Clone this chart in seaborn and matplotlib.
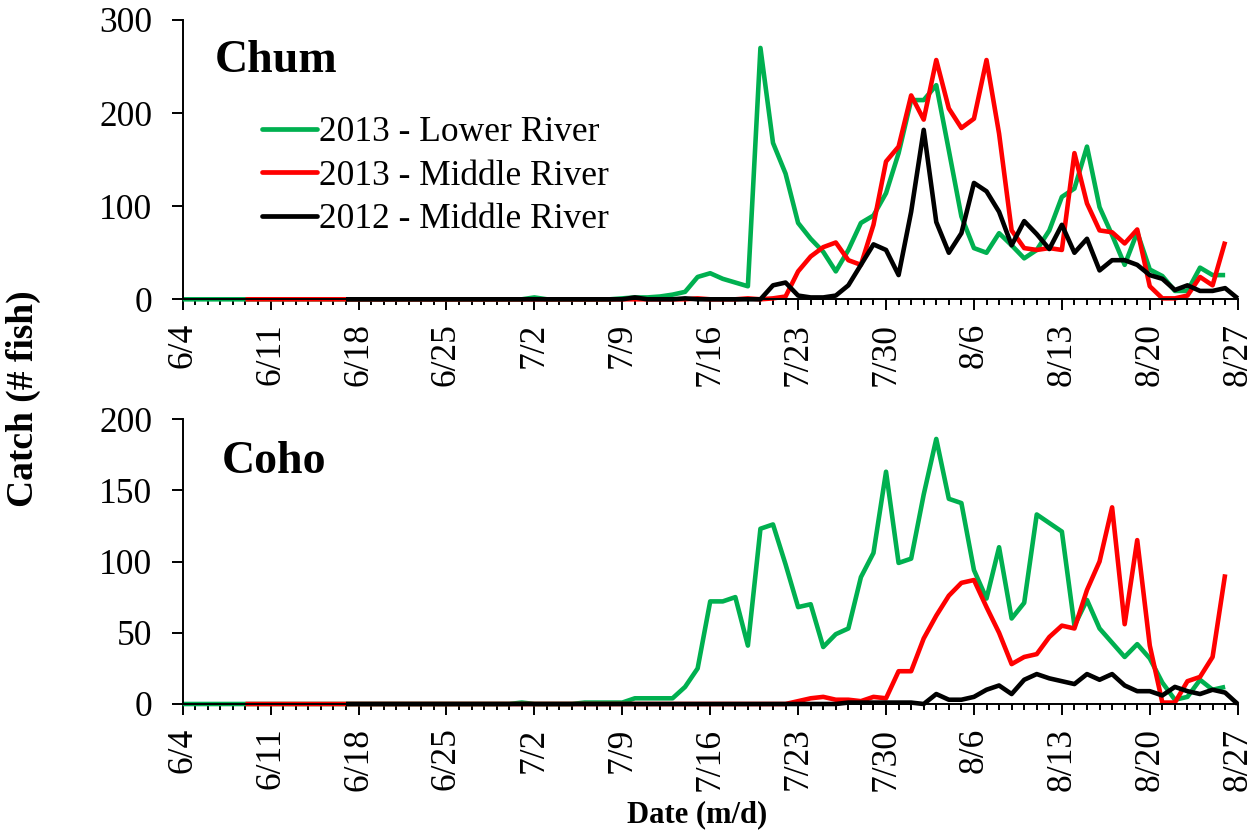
import numpy as np
import pandas as pd
import matplotlib
matplotlib.use("Agg")
import matplotlib.pyplot as plt
from matplotlib.lines import Line2D
from matplotlib.ticker import MultipleLocator
import seaborn as sns

nan = np.nan

# ---------------- data ----------------
# daily catch from 6/4 to 8/27 (one row per week, nan = not sampled)
tick_labels = ["6/4", "6/11", "6/18", "6/25", "7/2", "7/9", "7/16",
               "7/23", "7/30", "8/6", "8/13", "8/20", "8/27"]
series_names = ["2013 - Lower River", "2013 - Middle River", "2012 - Middle River"]
series_colors = ["#00B050", "#FF0000", "#000000"]

# Chum (upper panel)
chum_lower_2013 = [
    0, 0, 0, 0, 0, 0, 0,            # 6/4
    0, 0, 0, 0, 0, 0, 0,            # 6/11
    0, 0, 0, 0, 0, 0, 0,            # 6/18
    0, 0, 0, 0, 0, 0, 0,            # 6/25
    2, 0, 0, 0, 0, 0, 0,            # 7/2
    1, 2, 2, 3, 5, 8, 24,           # 7/9
    28, 22, 18, 14, 270, 168, 135,  # 7/16
    82, 65, 51, 30, 53, 82, 90,     # 7/23
    114, 157, 214, 214, 230, 160, 89,  # 7/30
    55, 50, 71, 58, 44, 53, 74,     # 8/6
    110, 119, 164, 99, 69, 37, 72,  # 8/13
    32, 25, 9, 9, 34, 26, 26,       # 8/20
    nan]                            # 8/27
chum_middle_2013 = [
    nan, nan, nan, nan, nan, 0, 0,
    0, 0, 0, 0, 0, 0, 0,
    0, 0, 0, 0, 0, 0, 0,
    0, 0, 0, 0, 0, 0, 0,
    0, 0, 0, 0, 0, 0, 0,
    0, 0, 0, 0, 0, 0, 1,
    0, 0, 0, 1, 0, 1, 3,
    30, 46, 56, 61, 42, 37, 80,
    148, 164, 219, 193, 257, 205, 184,
    194, 257, 178, 74, 55, 53, 55,
    53, 157, 103, 74, 72, 60, 75,
    14, 1, 1, 4, 24, 15, 62,
    nan]
chum_middle_2012 = [
    nan, nan, nan, nan, nan, nan, nan,
    nan, nan, nan, nan, nan, nan, 0,
    0, 0, 0, 0, 0, 0, 0,
    0, 0, 0, 0, 0, 0, 0,
    0, 0, 0, 0, 0, 0, 0,
    0, 2, 0, 0, 0, 1, 0,
    0, 0, 0, 0, 0, 15, 18,
    4, 2, 2, 4, 15, 37, 59,
    53, 26, 94, 182, 83, 50, 71,
    125, 116, 94, 58, 84, 70, 54,
    80, 50, 65, 31, 42, 42, 37,
    26, 22, 10, 15, 9, 9, 12,
    1]

# Coho (lower panel)
coho_lower_2013 = [
    0, 0, 0, 0, 0, 0, 0,
    0, 0, 0, 0, 0, 0, 0,
    0, 0, 0, 0, 0, 0, 0,
    0, 0, 0, 0, 0, 0, 1,
    0, 0, 0, 0, 1, 1, 1,
    1, 4, 4, 4, 4, 12, 25,
    72, 72, 75, 41, 123, 126, 98,
    68, 70, 40, 49, 53, 89, 106,
    163, 99, 102, 147, 186, 144, 141,
    94, 74, 110, 60, 71, 133, 127,
    121, 55, 73, 53, 43, 33, 42,
    32, 15, 3, 5, 17, 10, 12,
    nan]
coho_middle_2013 = [
    nan, nan, nan, nan, nan, 0, 0,
    0, 0, 0, 0, 0, 0, 0,
    0, 0, 0, 0, 0, 0, 0,
    0, 0, 0, 0, 0, 0, 0,
    0, 0, 0, 0, 0, 0, 0,
    0, 0, 0, 0, 0, 0, 0,
    0, 0, 0, 0, 0, 0, 0,
    2, 4, 5, 3, 3, 2, 5,
    4, 23, 23, 46, 62, 76, 85,
    87, 68, 50, 28, 33, 35, 47,
    55, 53, 80, 100, 138, 56, 115,
    41, 1, 1, 16, 19, 33, 91,
    nan]
coho_middle_2012 = [
    nan, nan, nan, nan, nan, nan, nan,
    nan, nan, nan, nan, nan, nan, 0,
    0, 0, 0, 0, 0, 0, 0,
    0, 0, 0, 0, 0, 0, 0,
    0, 0, 0, 0, 0, 0, 0,
    0, 0, 0, 0, 0, 0, 0,
    0, 0, 0, 0, 0, 0, 0,
    0, 0, 0, 0, 1, 1, 1,
    1, 1, 1, 0, 7, 3, 3,
    5, 10, 13, 7, 17, 21, 18,
    16, 14, 21, 17, 21, 13, 9,
    9, 6, 12, 9, 7, 10, 8,
    0]

panels = [
    ("Chum", [chum_lower_2013, chum_middle_2013, chum_middle_2012], [0, 100, 200, 300]),
    ("Coho", [coho_lower_2013, coho_middle_2013, coho_middle_2012], [0, 50, 100, 150, 200]),
]

# ---------------- style ----------------
sns.set_style("ticks")
plt.rcParams["font.family"] = ["Liberation Serif", "DejaVu Serif"]
plt.rcParams["axes.linewidth"] = 1.4
plt.rcParams["text.color"] = "black"
plt.rcParams["axes.labelcolor"] = "black"
plt.rcParams["xtick.color"] = "black"
plt.rcParams["ytick.color"] = "black"

W, H = 1253, 836
fig = plt.figure(figsize=(W / 100, H / 100), dpi=100)

def fx(px):
    return px / W

def fy(py):
    return 1 - py / H

ax_left, ax_right = 182.7, 1237.7
axes_px = [(20, 299.3), (419, 704)]
title_pos = [(215, 61), (222, 462)]

axes = []
for (name, data_list, yticks), (top, bottom), (tx, ty) in zip(panels, axes_px, title_pos):
    ax = fig.add_axes([fx(ax_left), fy(bottom), fx(ax_right - ax_left), (bottom - top) / H])
    for vals, color in zip(data_list, series_colors):
        df = pd.DataFrame({"day": np.arange(len(vals)), "catch": vals}).dropna()
        sns.lineplot(data=df, x="day", y="catch", color=color, linewidth=3.3,
                     ax=ax, clip_on=False, solid_joinstyle="round",
                     solid_capstyle="butt", estimator=None)
    ax.set_xlim(0, len(tick_labels) * 7 - 7)
    ax.set_ylim(yticks[0], yticks[-1])
    ax.set_xticks(np.arange(len(tick_labels)) * 7)
    ax.set_xticklabels(tick_labels, rotation=90)
    ax.xaxis.set_minor_locator(MultipleLocator(1))
    ax.set_yticks(yticks)
    ax.set_xlabel("")
    ax.set_ylabel("")
    for s in ["top", "right"]:
        ax.spines[s].set_visible(False)
    for s in ["left", "bottom"]:
        ax.spines[s].set_color("black")
        ax.spines[s].set_linewidth(1.4)
    ax.tick_params(axis="x", which="major", length=8, width=1.4, direction="out",
                   pad=9, labelsize=25.5, colors="black")
    ax.tick_params(axis="x", which="minor", length=4.5, width=1.4, direction="out",
                   colors="black")
    ax.tick_params(axis="y", which="major", length=8, width=1.4, direction="out",
                   pad=14, labelsize=25.5, colors="black")
    fig.text(fx(tx), fy(ty), name, fontsize=33, fontweight="bold",
             ha="left", va="center", color="black")
    axes.append(ax)

handles = [Line2D([0], [0], color=c, lw=3.4, solid_capstyle="round") for c in series_colors]
leg = axes[0].legend(handles, series_names, loc="upper left",
                     bbox_to_anchor=(fx(262), fy(116)), bbox_transform=fig.transFigure,
                     frameon=False, fontsize=25.5, handlelength=1.55, handletextpad=0.05,
                     labelspacing=0.3, borderpad=0, borderaxespad=0)
for t in leg.get_texts():
    t.set_color("black")

fig.text(fx(23), fy(399), "Catch (# fish)", rotation=90, fontsize=27,
         fontweight="bold", ha="center", va="center", color="black")
fig.text(fx(697), fy(815), "Date (m/d)", fontsize=22, fontweight="bold",
         ha="center", va="center", color="black")

fig.savefig("out.png", dpi=100)
